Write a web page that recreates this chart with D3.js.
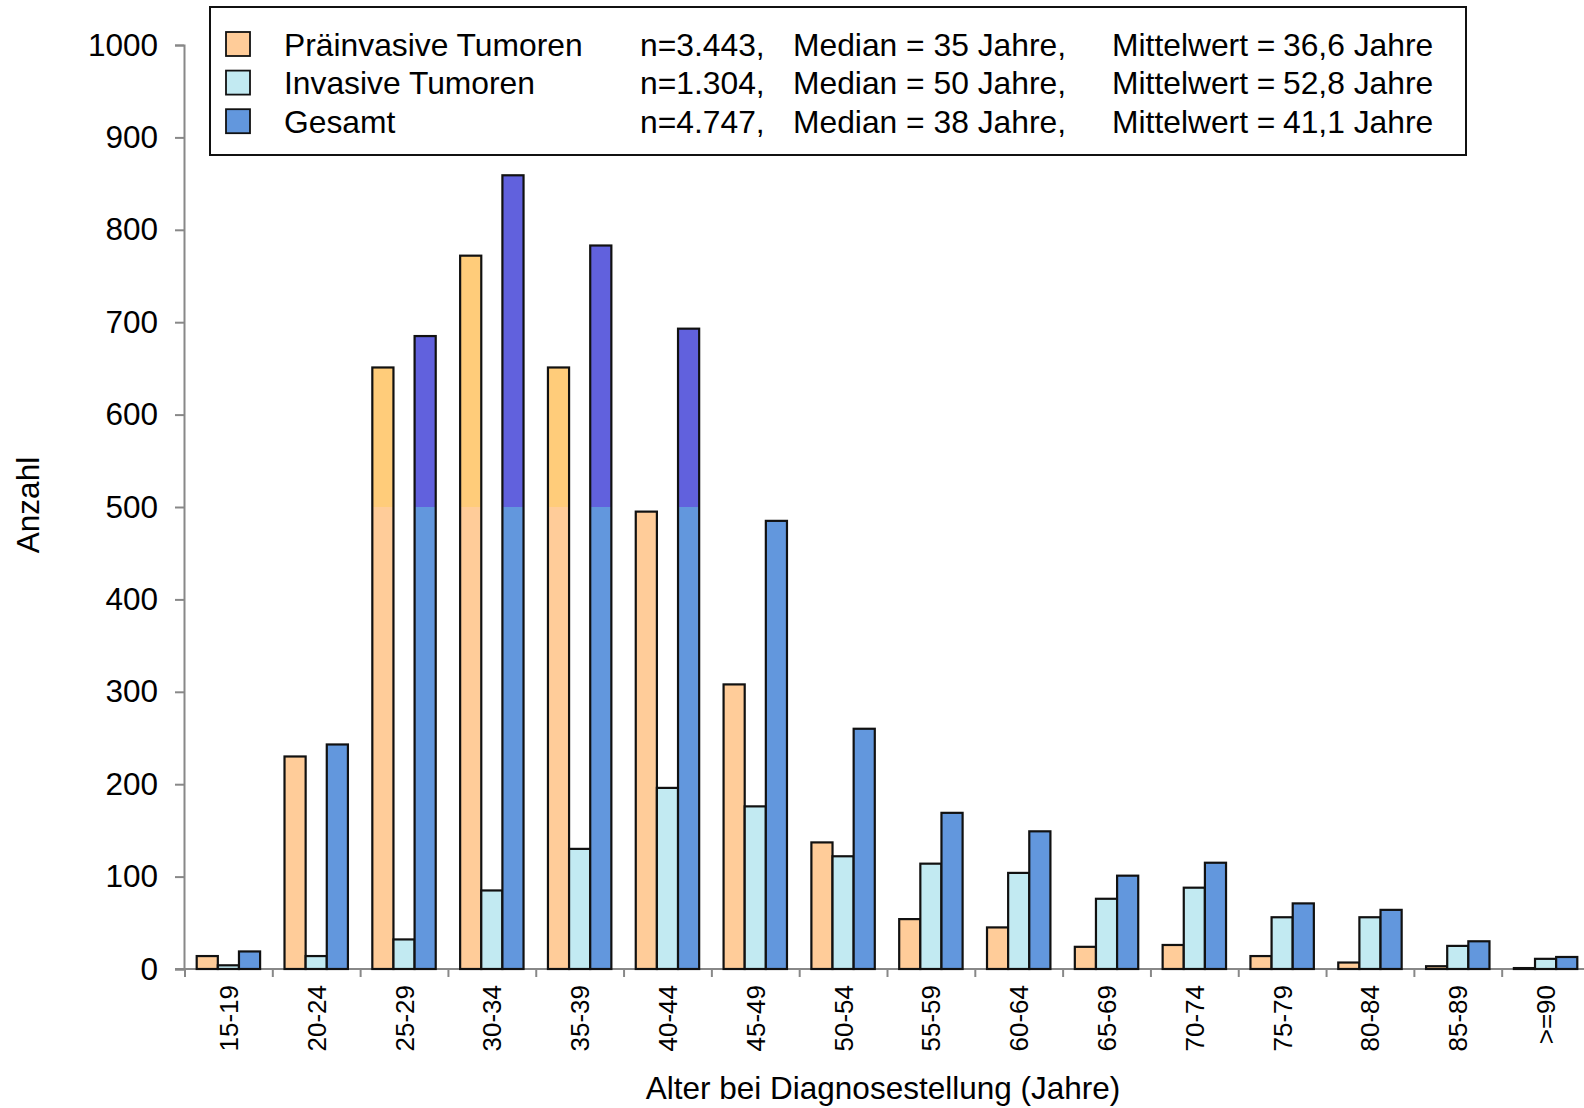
<!DOCTYPE html>
<html><head><meta charset="utf-8">
<script src="https://cdn.jsdelivr.net/npm/d3@7"></script>
<style>body{margin:0;background:#fff}svg{display:block;font-family:"Liberation Sans",Arial,sans-serif}</style>
</head><body>
<svg id="c" width="1584" height="1108"></svg>
<script>
const categories = ["15-19","20-24","25-29","30-34","35-39","40-44","45-49","50-54","55-59","60-64","65-69","70-74","75-79","80-84","85-89",">=90"];
const seriesNames = ["Präinvasive Tumoren","Invasive Tumoren","Gesamt"];
const praeinvasiv = [14,230,651,772,651,495,308,137,54,45,24,26,14,7,3,1];
const invasiv = [4,14,32,85,130,196,176,122,114,104,76,88,56,56,25,11];
const gesamt = [19,243,685,859,783,693,485,260,169,149,101,115,71,64,30,13];
const yTicks = [0,100,200,300,400,500,600,700,800,900,1000];
const legendN = ["n=3.443,","n=1.304,","n=4.747,"];
const legendMedian = ["Median = 35 Jahre,","Median = 50 Jahre,","Median = 38 Jahre,"];
const legendMean = ["36,6 Jahre","52,8 Jahre","41,1 Jahre"];
const splitValue = 500;

const colorsLow = ["#FFCC99","#C2EAF2","#6297DD"];
const colorsHigh = ["#FFCC7A","#C2EAF2","#6161DD"];

const svg = d3.select("#c");
const y = d3.scaleLinear().domain([0,1000]).range([969,45]);
const x0 = d3.scaleBand().domain(categories).range([185,1590]).padding(0);
const x1 = d3.scaleBand().domain(seriesNames).range([11.7,75.1]).padding(0);
const values = [praeinvasiv, invasiv, gesamt];

// Axes
const yAxis = d3.axisLeft(y).tickValues(yTicks).tickFormat(d3.format("d")).tickSize(9).tickPadding(17);
const gy = svg.append("g").attr("transform","translate(184,0)").call(yAxis);
gy.select(".domain").attr("stroke","#888").attr("stroke-width",2);
gy.selectAll(".tick line").attr("stroke","#888").attr("stroke-width",2);
gy.selectAll(".tick text").attr("font-size",31.5).attr("fill","#000").attr("font-family","Liberation Sans, Arial, sans-serif");

// x axis line
svg.append("line").attr("x1",175).attr("x2",1590).attr("y1",y(0)).attr("y2",y(0)).attr("stroke","#888").attr("stroke-width",2);
const bounds = categories.map(c=>x0(c)).concat([x0.range()[1]]);
svg.append("g").selectAll("line").data(bounds).join("line")
  .attr("x1",d=>d).attr("x2",d=>d).attr("y1",y(0)).attr("y2",y(0)+8)
  .attr("stroke","#888").attr("stroke-width",2);
svg.append("g").selectAll("text").data(categories).join("text")
  .attr("transform",d=>`translate(${x0(d)+x0.bandwidth()/2+9},985) rotate(-90)`)
  .attr("text-anchor","end").attr("font-size",26).attr("fill","#000").text(d=>d);

// Bars
const bars = [];
values.forEach((arr,si)=>arr.forEach((v,ci)=>bars.push({si,ci,v})));
const g = svg.append("g");
bars.forEach(b=>{
  const bx = x0(categories[b.ci]) + x1(seriesNames[b.si]);
  const bw = x1.bandwidth();
  const low = Math.min(b.v, splitValue);
  g.append("rect").attr("x",bx).attr("width",bw).attr("y",y(low)).attr("height",y(0)-y(low)).attr("fill",colorsLow[b.si]);
  if (b.v > splitValue) {
    g.append("rect").attr("x",bx).attr("width",bw).attr("y",y(b.v)).attr("height",y(splitValue)-y(b.v)).attr("fill",colorsHigh[b.si]);
  }
  g.append("rect").attr("x",bx).attr("width",bw).attr("y",y(b.v)).attr("height",y(0)-y(b.v))
    .attr("fill","none").attr("stroke","#111").attr("stroke-width",2.2);
});

// Axis titles
svg.append("text").attr("transform","translate(39,505) rotate(-90)").attr("text-anchor","middle")
  .attr("font-size",31.5).attr("fill","#000").text("Anzahl");
svg.append("text").attr("x",883).attr("y",1099).attr("text-anchor","middle")
  .attr("font-size",31.5).attr("fill","#000").text("Alter bei Diagnosestellung (Jahre)");

// Legend
svg.append("rect").attr("x",210).attr("y",7).attr("width",1256).attr("height",148)
  .attr("fill","#fff").attr("stroke","#111").attr("stroke-width",2);
const lg = svg.append("g");
seriesNames.forEach((name,i)=>{
  const cy = 44.5 + i*38.6;
  lg.append("rect").attr("x",226).attr("y",cy-12.5).attr("width",24).attr("height",24)
    .attr("fill",colorsLow[i]).attr("stroke","#111").attr("stroke-width",1.8);
  const base = cy + 11;
  lg.append("text").attr("x",284).attr("y",base).attr("font-size",31.8).text(name);
  lg.append("text").attr("x",640).attr("y",base).attr("font-size",31.8).text(legendN[i]);
  lg.append("text").attr("x",793).attr("y",base).attr("font-size",31.8).text(legendMedian[i]);
  lg.append("text").attr("x",1112).attr("y",base).attr("font-size",31.8).text("Mittelwert =");
  lg.append("text").attr("x",1283).attr("y",base).attr("font-size",31.8).text(legendMean[i]);
});
</script>
</body></html>
